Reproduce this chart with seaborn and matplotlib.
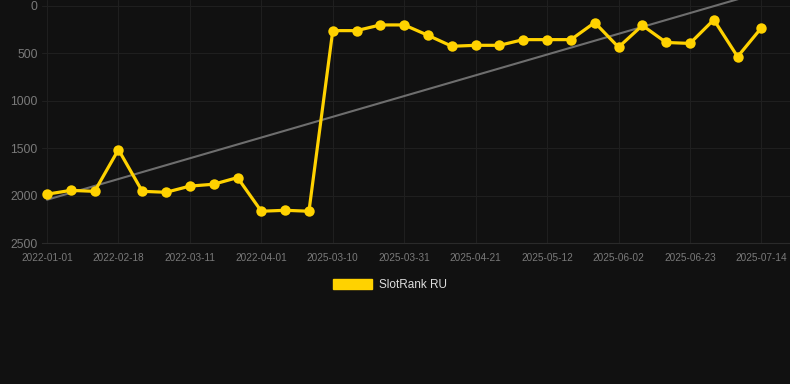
import numpy as np
import pandas as pd
import matplotlib
matplotlib.use("Agg")
import matplotlib.pyplot as plt
import seaborn as sns
from matplotlib.patches import Patch

dates = [
    "2022-01-01", "2022-01-17", "2022-02-02", "2022-02-18", "2022-02-25",
    "2022-03-04", "2022-03-11", "2022-03-18", "2022-03-25", "2022-04-01",
    "2022-04-08", "2022-04-15", "2025-03-10", "2025-03-17", "2025-03-24",
    "2025-03-31", "2025-04-07", "2025-04-14", "2025-04-21", "2025-04-28",
    "2025-05-05", "2025-05-12", "2025-05-19", "2025-05-26", "2025-06-02",
    "2025-06-09", "2025-06-16", "2025-06-23", "2025-06-30", "2025-07-07",
    "2025-07-14",
]
rank = [
    1985, 1945, 1955, 1515, 1955, 1965, 1900, 1880, 1810, 2165,
    2155, 2165, 260, 260, 200, 200, 310, 425, 415, 415,
    355, 355, 355, 175, 435, 205, 385, 395, 145, 535,
    230,
]

BG = "#111111"
YELLOW = "#FFD200"
GRID = "#1f1f1f"

df = pd.DataFrame({"date": dates, "rank": rank})
df["idx"] = np.arange(len(df))

sns.set_style("dark", {
    "axes.facecolor": BG,
    "figure.facecolor": BG,
    "grid.color": GRID,
    "axes.grid": True,
})
plt.rcParams["font.family"] = ["Liberation Sans", "DejaVu Sans"]

fig = plt.figure(figsize=(7.9, 3.84), dpi=100)
ax = fig.add_axes([42 / 790, 1 - 243 / 384, 1 - 42 / 790, 243 / 384])

# trend line (least squares over the points)
coef = np.polyfit(df["idx"], df["rank"], 1)
trend = np.polyval(coef, df["idx"])
ax.plot(df["idx"], trend, color="#6e6e6e", linewidth=1.5, zorder=2)

sns.lineplot(
    data=df,
    x="idx",
    y="rank",
    color=YELLOW,
    linewidth=2.3,
    marker="o",
    markersize=7.5,
    markeredgewidth=0,
    ax=ax,
    zorder=3,
)

ax.set_xlim(-0.21, 31.2)
ax.set_ylim(2500, -63)
ax.set_yticks([0, 500, 1000, 1500, 2000, 2500])
ticks = df["idx"][::3]
ax.set_xticks(ticks)
ax.set_xticklabels(df["date"][::3])
ax.tick_params(axis="x", colors="#7a7a7a", labelsize=7.2, length=5, width=0.8, pad=2.5)
ax.tick_params(axis="y", colors="#7a7a7a", labelsize=8.8, length=0, pad=3)
for lbl in ax.get_xticklabels():
    lbl.set_color("#7a7a7a")
ax.set_xlabel("")
ax.set_ylabel("")
ax.grid(True, color=GRID, linewidth=0.8)
for side in ["top", "right", "left"]:
    ax.spines[side].set_visible(False)
ax.spines["bottom"].set_color("#2a2a2a")

handle = Patch(facecolor=YELLOW, edgecolor=YELLOW, label="SlotRank RU")
fig.legend(
    handles=[handle],
    loc="center",
    bbox_to_anchor=(390 / 790, 1 - 285 / 384),
    frameon=False,
    fontsize=8.5,
    labelcolor="#dddddd",
    handlelength=3.3,
    handleheight=0.9,
    handletextpad=0.6,
)

fig.savefig("out.png", dpi=100, facecolor=BG)
plt.close(fig)
